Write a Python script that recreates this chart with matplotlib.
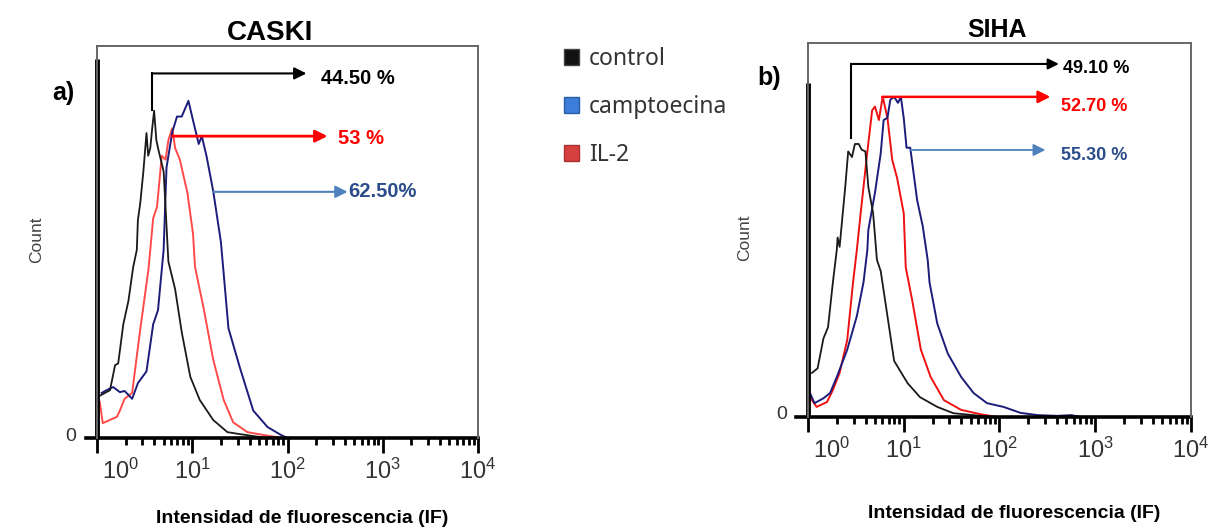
import matplotlib
matplotlib.use("Agg")
import matplotlib.pyplot as plt
from matplotlib.patches import Patch
from matplotlib.transforms import ScaledTranslation

plt.rcParams["font.family"] = ["Liberation Sans", "DejaVu Sans"]
plt.rcParams["mathtext.fontset"] = "custom"
plt.rcParams["mathtext.rm"] = "Liberation Sans"
plt.rcParams["mathtext.it"] = "Liberation Sans"
plt.rcParams["mathtext.default"] = "rm"

# ------------------------------------------------------------
# Data (fluorescence intensity, count %)
# ------------------------------------------------------------
legend_labels = ["control", "camptoecina", "IL-2"]
decade_ticks = [1, 10, 100, 1000, 10000]
decade_labels = ["$10^{0}$", "$10^{1}$", "$10^{2}$", "$10^{3}$", "$10^{4}$"]

# CASKI
caski_spike = 96.7
caski_control_x = [1.02, 1.37, 1.55, 1.67, 1.89, 2.14, 2.40, 2.62, 2.69, 2.85, 3.07, 3.31,
                   3.45, 3.63, 3.80, 3.98, 4.20, 4.37, 5.01, 5.62, 6.61, 7.76, 9.55, 12.0,
                   16.6, 23.4, 31.6, 43.7, 63.0, 10000]
caski_control_y = [10.5, 12.2, 18.6, 19.0, 29.0, 35.0, 43.6, 48.0, 55.6, 60.0, 68.0, 77.8,
                   72.0, 74.0, 79.0, 83.5, 76.0, 74.0, 68.0, 45.0, 38.0, 27.0, 15.6, 9.7,
                   4.6, 1.5, 1.0, 0.5, 0.0, 0.0]
caski_il2_x = [1.07, 1.15, 1.62, 1.74, 1.95, 2.34, 2.82, 3.47, 3.89, 4.27, 4.79, 5.25, 5.62,
               6.17, 6.61, 7.41, 8.91, 10.2, 10.7, 13.2, 16.6, 21.4, 26.9, 38.0, 61.7, 91.0,
               10000]
caski_il2_y = [9.2, 3.8, 5.4, 7.0, 10.0, 11.5, 27.0, 43.0, 56.0, 59.0, 72.0, 71.0, 76.0,
               79.0, 74.0, 71.0, 62.5, 52.0, 43.6, 33.0, 20.0, 9.7, 4.0, 1.5, 0.6, 0.0, 0.0]
caski_campto_x = [1.12, 1.26, 1.48, 1.74, 1.95, 2.34, 2.69, 3.31, 3.89, 4.37, 5.01, 5.37,
                  6.17, 6.92, 7.76, 9.12, 10.2, 11.7, 12.6, 14.1, 16.6, 20.0, 24.0, 31.6,
                  43.7, 61.7, 85.1, 100, 10000]
caski_campto_y = [11.5, 12.2, 13.0, 11.7, 12.0, 10.0, 14.0, 17.0, 29.0, 32.6, 48.0, 69.0,
                  78.0, 82.0, 82.0, 86.0, 81.0, 75.0, 77.0, 72.0, 63.0, 50.0, 28.0, 18.0,
                  7.0, 2.8, 0.8, 0.0, 0.0]
caski_pct = ["44.50 %", "53 %", "62.50%"]

# SIHA
siha_spike = 89.3
siha_control_x = [1.10, 1.26, 1.45, 1.62, 1.82, 2.00, 2.04, 2.14, 2.45, 2.63, 2.88, 3.09,
                  3.39, 3.63, 3.98, 4.27, 4.79, 5.25, 5.75, 6.76, 7.94, 11.0, 14.8, 22.4,
                  33.1, 53.7, 79.0, 10000]
siha_control_y = [11.8, 13.0, 21.0, 24.0, 36.0, 44.7, 48.0, 45.5, 61.5, 71.0, 69.5, 73.0,
                  73.0, 71.5, 71.0, 61.5, 54.5, 42.0, 39.0, 27.0, 15.0, 9.0, 5.3, 2.7,
                  1.0, 0.5, 0.0, 0.0]
siha_il2_x = [1.05, 1.23, 1.58, 1.82, 2.14, 2.57, 2.95, 3.24, 3.55, 4.17, 4.68, 5.01, 5.50,
              6.03, 6.76, 7.59, 8.51, 10.0, 10.5, 12.3, 15.1, 19.1, 26.3, 39.8, 64.6, 95.0,
              10000]
siha_il2_y = [5.3, 2.7, 4.0, 7.2, 11.8, 20.6, 35.8, 44.7, 54.5, 71.0, 82.0, 83.0, 79.4,
              85.6, 80.0, 68.7, 64.0, 54.5, 40.0, 31.0, 18.0, 10.7, 4.5, 1.9, 0.7, 0.0, 0.0]
siha_campto_x = [1.05, 1.17, 1.45, 1.70, 2.00, 2.57, 3.24, 3.80, 4.17, 4.27, 5.01, 5.75,
                 6.17, 6.76, 7.24, 7.94, 8.71, 9.33, 10.0, 10.7, 11.7, 13.8, 15.8, 17.8,
                 18.6, 22.4, 28.8, 39.8, 53.7, 74.1, 110, 166, 251, 398, 562, 708, 10000]
siha_campto_y = [6.4, 3.7, 5.0, 6.4, 10.7, 18.0, 27.0, 36.0, 44.7, 50.0, 60.0, 70.5,
                 79.4, 80.0, 84.8, 85.6, 84.0, 85.6, 80.0, 72.0, 72.0, 58.0, 51.0, 42.0,
                 36.0, 25.0, 17.0, 10.7, 6.4, 3.7, 2.7, 1.1, 0.5, 0.3, 0.5, 0.0, 0.0]
siha_pct = ["49.10 %", "52.70 %", "55.30 %"]


def draw_panel(ax, spike, control, campto, il2, red_color):
    ax.plot(il2[0], il2[1], color=red_color, lw=1.4)
    ax.plot(campto[0], campto[1], color="#1c1c7a", lw=1.4)
    ax.plot(control[0], control[1], color="#1a1a1a", lw=1.3)
    ax.vlines(1, 0, spike, color="black", lw=3.5, clip_on=False)

    ax.set_xscale("log")
    ax.set_xlim(1, 10000)
    ax.set_ylim(0, 100)

    for side in ["top", "right", "left"]:
        ax.spines[side].set_color("#666666")
        ax.spines[side].set_linewidth(1.4)
    ax.spines["bottom"].set_visible(False)
    ax.plot([-0.03, 1], [0, 0], transform=ax.get_yaxis_transform(),
            color="black", lw=2.6, clip_on=False)

    ax.set_xticks(decade_ticks)
    ax.set_xticklabels(decade_labels)
    ax.xaxis.set_minor_locator(matplotlib.ticker.LogLocator(base=10, subs=range(2, 10)))
    ax.xaxis.set_minor_formatter(matplotlib.ticker.NullFormatter())
    ax.tick_params(axis="x", which="major", length=11, width=2, direction="out",
                   pad=4, labelsize=17, labelcolor="#333333")
    ax.tick_params(axis="x", which="minor", length=5, width=2, direction="out")
    first = ax.get_xticklabels()[0]
    first.set_transform(first.get_transform() + ScaledTranslation(0.24, 0, ax.figure.dpi_scale_trans))

    ax.set_yticks([0])
    ax.set_yticklabels(["0"])
    ax.tick_params(axis="y", length=0, pad=15, labelsize=14, labelcolor="#333333")
    zero = ax.get_yticklabels()[0]
    zero.set_transform(zero.get_transform() + ScaledTranslation(0, 0.04, ax.figure.dpi_scale_trans))


fig = plt.figure(figsize=(12.09, 5.31), dpi=100)

# ============================================================
# PANEL a) CASKI
# ============================================================
ax1 = fig.add_axes([0.0802, 0.1751, 0.3152, 0.7383])
draw_panel(ax1, caski_spike,
           (caski_control_x, caski_control_y),
           (caski_campto_x, caski_campto_y),
           (caski_il2_x, caski_il2_y), "#ff4a4a")

ax1.plot([3.8, 3.8], [83.7, 93], color="black", lw=1.5)
ax1.annotate("", xy=(158, 93), xytext=(3.8, 93),
             arrowprops=dict(arrowstyle="-|>", color="black", lw=1.5, mutation_scale=18,
                             shrinkA=0, shrinkB=0))
ax1.annotate("", xy=(263, 77), xytext=(6.2, 77),
             arrowprops=dict(arrowstyle="-|>", color="#ff0000", lw=2, mutation_scale=18,
                             shrinkA=0, shrinkB=0))
ax1.annotate("", xy=(427, 62.8), xytext=(16.6, 62.8),
             arrowprops=dict(arrowstyle="-|>", color="#4f81bd", lw=1.5, mutation_scale=18,
                             shrinkA=0, shrinkB=0))
ax1.text(224, 91.8, caski_pct[0], color="black", fontsize=14.5, fontweight="bold",
         va="center")
ax1.text(337, 76.5, caski_pct[1], color="#ff0000", fontsize=14.5, fontweight="bold",
         va="center")
ax1.text(437, 62.8, caski_pct[2], color="#2a4d8a", fontsize=14.5, fontweight="bold",
         va="center")

ax1.set_title("CASKI", fontsize=20, fontweight="bold", x=0.454, pad=1)
ax1.text(-0.118, 0.862, "a)", transform=ax1.transAxes, fontsize=18, fontweight="bold",
         va="baseline")
ax1.set_ylabel("Count", fontsize=12.5, color="#444444")
ax1.yaxis.set_label_coords(-0.139, 0.505)
ax1.set_xlabel("Intensidad de fluorescencia (IF)", fontsize=14, fontweight="bold")
ax1.xaxis.set_label_coords(0.538, -0.184)

# ============================================================
# PANEL b) SIHA
# ============================================================
ax2 = fig.add_axes([0.6683, 0.2147, 0.3168, 0.7043])
draw_panel(ax2, siha_spike,
           (siha_control_x, siha_control_y),
           (siha_campto_x, siha_campto_y),
           (siha_il2_x, siha_il2_y), "#ee1111")

ax2.plot([2.82, 2.82], [74.6, 94.4], color="black", lw=1.5)
ax2.annotate("", xy=(417, 94.4), xytext=(2.82, 94.4),
             arrowprops=dict(arrowstyle="-|>", color="black", lw=1.5, mutation_scale=16,
                             shrinkA=0, shrinkB=0))
ax2.annotate("", xy=(340, 85.6), xytext=(5.96, 85.6),
             arrowprops=dict(arrowstyle="-|>", color="#ff0000", lw=1.8, mutation_scale=18,
                             shrinkA=0, shrinkB=0))
ax2.annotate("", xy=(302, 71.4), xytext=(11.7, 71.4),
             arrowprops=dict(arrowstyle="-|>", color="#4f81bd", lw=1.3, mutation_scale=18,
                             shrinkA=0, shrinkB=0))
ax2.text(457, 93.3, siha_pct[0], color="black", fontsize=13, fontweight="bold", va="center")
ax2.text(437, 82.9, siha_pct[1], color="#ff0000", fontsize=13, fontweight="bold", va="center")
ax2.text(437, 70.0, siha_pct[2], color="#2a4d8a", fontsize=13, fontweight="bold", va="center")

ax2.set_title("SIHA", fontsize=18, fontweight="bold", x=0.493, pad=4)
ax2.text(-0.133, 0.888, "b)", transform=ax2.transAxes, fontsize=18, fontweight="bold",
         va="baseline")
ax2.set_ylabel("Count", fontsize=12.5, color="#444444")
ax2.yaxis.set_label_coords(-0.146, 0.479)
ax2.set_xlabel("Intensidad de fluorescencia (IF)", fontsize=14, fontweight="bold")
ax2.xaxis.set_label_coords(0.538, -0.235)

# ------------------------------------------------------------
# Shared legend
# ------------------------------------------------------------
handles = [Patch(facecolor="#111111", edgecolor="#444444"),
           Patch(facecolor="#3b7dd8", edgecolor="#2a5fa8"),
           Patch(facecolor="#d84040", edgecolor="#a83030")]
fig.legend(handles=handles, labels=legend_labels, loc="upper left",
           bbox_to_anchor=(564 / 1209, 1 - 47 / 531), frameon=False,
           prop={"family": "Noto Sans", "size": 16.5}, labelcolor="#333333",
           handlelength=0.65, handleheight=0.65, handletextpad=0.45,
           labelspacing=1.05, borderpad=0, borderaxespad=0)

plt.savefig("out.png", dpi=100)
